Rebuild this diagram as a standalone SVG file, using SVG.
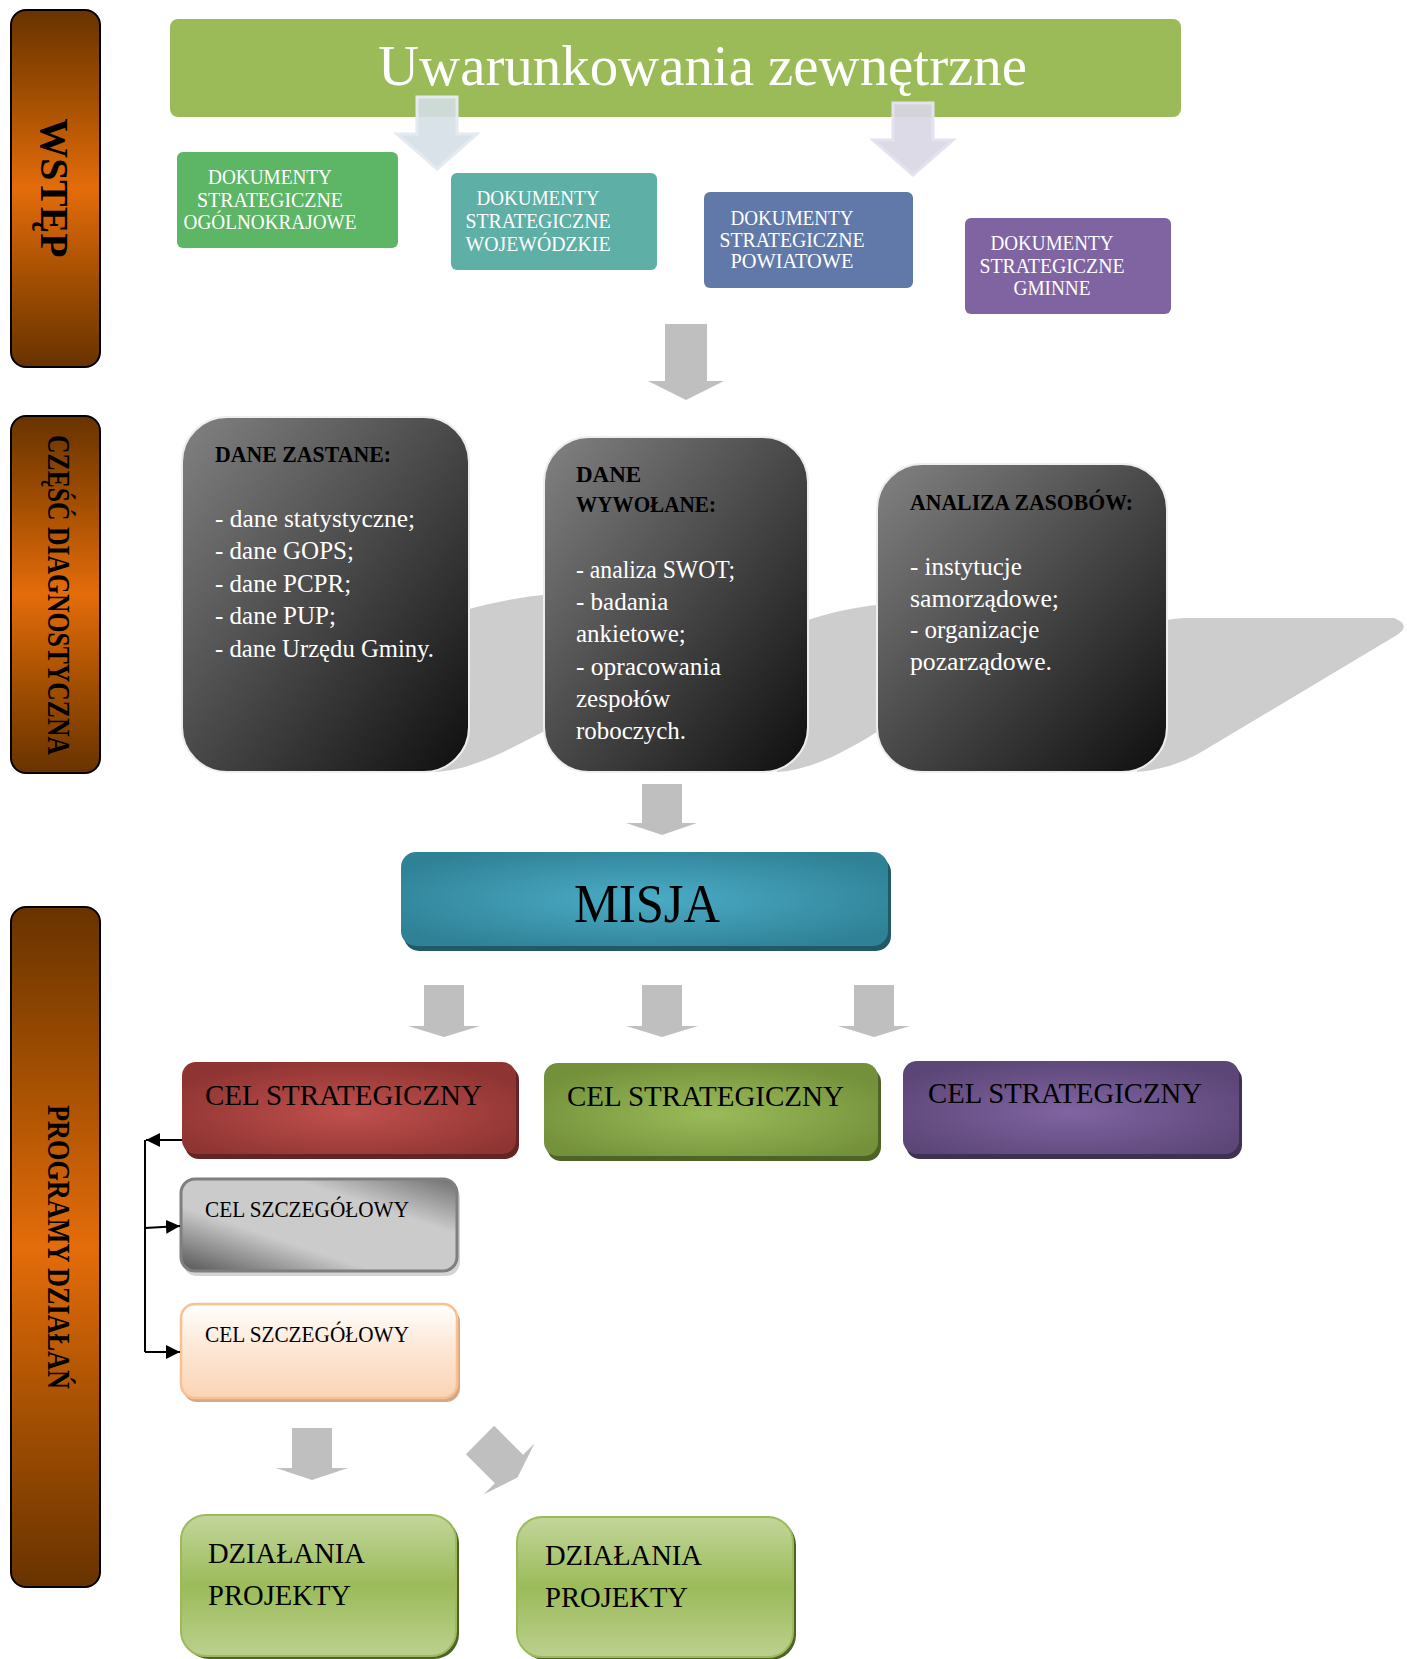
<svg xmlns="http://www.w3.org/2000/svg" width="1407" height="1659" viewBox="0 0 1407 1659">
<defs>
<linearGradient id="gBar" x1="0" y1="0" x2="0" y2="1">
<stop offset="0" stop-color="#683300"/>
<stop offset="0.25" stop-color="#A34F02"/>
<stop offset="0.5" stop-color="#E46C0A"/>
<stop offset="0.75" stop-color="#A34F02"/>
<stop offset="1" stop-color="#683300"/>
</linearGradient>
<linearGradient id="gDark" x1="0" y1="0" x2="1" y2="1">
<stop offset="0" stop-color="#828282"/>
<stop offset="1" stop-color="#0E0E0E"/>
</linearGradient>
<radialGradient id="gRed" cx="0.5" cy="0.55" r="0.6">
<stop offset="0" stop-color="#C0504D"/>
<stop offset="1" stop-color="#8E3432"/>
</radialGradient>
<radialGradient id="gGreen" cx="0.5" cy="0.55" r="0.6">
<stop offset="0" stop-color="#9BBB59"/>
<stop offset="1" stop-color="#73903A"/>
</radialGradient>
<radialGradient id="gPurple" cx="0.5" cy="0.55" r="0.6">
<stop offset="0" stop-color="#8064A2"/>
<stop offset="1" stop-color="#5C4677"/>
</radialGradient>
<radialGradient id="gTeal" cx="0.5" cy="0.5" r="0.6">
<stop offset="0" stop-color="#4BACC6"/>
<stop offset="1" stop-color="#2F8196"/>
</radialGradient>
<linearGradient id="gGray" x1="0" y1="1" x2="1" y2="0">
<stop offset="0" stop-color="#555555"/>
<stop offset="0.35" stop-color="#CBCBCB"/>
<stop offset="0.7" stop-color="#CBCBCB"/>
<stop offset="1" stop-color="#6E6E6E"/>
</linearGradient>
<linearGradient id="gPeach" x1="0" y1="0" x2="0" y2="1">
<stop offset="0" stop-color="#FFFFFF"/>
<stop offset="0.5" stop-color="#FDE6D3"/>
<stop offset="1" stop-color="#FAD4B5"/>
</linearGradient>
<linearGradient id="gLime" x1="0" y1="0" x2="0" y2="1">
<stop offset="0" stop-color="#C3D69B"/>
<stop offset="0.5" stop-color="#9BBB59"/>
<stop offset="1" stop-color="#BCD08F"/>
</linearGradient>
<marker id="ah" viewBox="0 0 10 10" refX="10" refY="5" markerWidth="14" markerHeight="14" markerUnits="userSpaceOnUse" orient="auto">
<path d="M0,0 L10,5 L0,10 Z" fill="#000"/>
</marker>
<style>
.serif{font-family:"Liberation Serif","DejaVu Serif",serif;}
.bar{fill:url(#gBar);stroke:#000;stroke-width:2;}
.barT{font-family:"Liberation Serif","DejaVu Serif",serif;font-weight:bold;fill:#000;}
.doc{font-family:"Liberation Serif","DejaVu Serif",serif;font-size:21px;fill:#fff;text-anchor:middle;}
.dark{fill:url(#gDark);stroke:#EEEEEE;stroke-width:2;}
.dh{font-family:"Liberation Serif","DejaVu Serif",serif;font-weight:bold;font-size:23px;fill:#000;}
.db{font-family:"Liberation Serif","DejaVu Serif",serif;font-size:25px;fill:#fff;}
.blk{fill:#BFBFBF;}
.cel{font-family:"Liberation Serif","DejaVu Serif",serif;font-size:30px;fill:#000;}
.sz{font-family:"Liberation Serif","DejaVu Serif",serif;font-size:23px;fill:#000;}
.sw{fill:#CDCDCD;}
.ln{fill:none;stroke:#000;stroke-width:2;}
</style>
</defs>
<rect width="1407" height="1659" fill="#fff"/>

<!-- left section bars -->
<g id="bar-wstep">
<rect class="bar" x="11" y="10" width="89" height="357" rx="15"/>
<text class="barT" font-size="40" text-anchor="middle" transform="translate(41,188) rotate(90)" textLength="139" lengthAdjust="spacingAndGlyphs">WSTĘP</text>
</g>
<g id="bar-diagnostyczna">
<rect class="bar" x="11" y="416" width="89" height="357" rx="15"/>
<text class="barT" font-size="31" text-anchor="middle" transform="translate(48,595) rotate(90)" textLength="320" lengthAdjust="spacingAndGlyphs">CZĘŚĆ DIAGNOSTYCZNA</text>
</g>
<g id="bar-programy">
<rect class="bar" x="11" y="907" width="89" height="680" rx="15"/>
<text class="barT" font-size="31" text-anchor="middle" transform="translate(48,1247) rotate(90)" textLength="284" lengthAdjust="spacingAndGlyphs">PROGRAMY DZIAŁAŃ</text>
</g>

<!-- header -->
<g id="uwarunkowania">
<rect x="170" y="19" width="1011" height="98" rx="8" fill="#9BBB59"/>
<text class="serif" x="378" y="85" font-size="56" fill="#fff" textLength="649" lengthAdjust="spacingAndGlyphs">Uwarunkowania zewnętrzne</text>
</g>

<!-- document boxes -->
<g id="doc-ogolnokrajowe">
<rect x="177" y="152" width="221" height="96" rx="6" fill="#5DB566"/>
<text class="doc" x="270" y="184" textLength="124" lengthAdjust="spacingAndGlyphs">DOKUMENTY</text>
<text class="doc" x="270" y="207" textLength="146" lengthAdjust="spacingAndGlyphs">STRATEGICZNE</text>
<text class="doc" x="270" y="229" textLength="173" lengthAdjust="spacingAndGlyphs">OGÓLNOKRAJOWE</text>
</g>
<g id="doc-wojewodzkie">
<rect x="451" y="173" width="206" height="97" rx="6" fill="#5EAFA6"/>
<text class="doc" x="538" y="205" textLength="123" lengthAdjust="spacingAndGlyphs">DOKUMENTY</text>
<text class="doc" x="538" y="228" textLength="145" lengthAdjust="spacingAndGlyphs">STRATEGICZNE</text>
<text class="doc" x="538" y="251" textLength="145" lengthAdjust="spacingAndGlyphs">WOJEWÓDZKIE</text>
</g>
<g id="doc-powiatowe">
<rect x="704" y="192" width="209" height="96" rx="6" fill="#6179A9"/>
<text class="doc" x="792" y="225" textLength="123" lengthAdjust="spacingAndGlyphs">DOKUMENTY</text>
<text class="doc" x="792" y="247" textLength="145" lengthAdjust="spacingAndGlyphs">STRATEGICZNE</text>
<text class="doc" x="792" y="268" textLength="123" lengthAdjust="spacingAndGlyphs">POWIATOWE</text>
</g>
<g id="doc-gminne">
<rect x="965" y="218" width="206" height="96" rx="6" fill="#8064A2"/>
<text class="doc" x="1052" y="250" textLength="123" lengthAdjust="spacingAndGlyphs">DOKUMENTY</text>
<text class="doc" x="1052" y="273" textLength="145" lengthAdjust="spacingAndGlyphs">STRATEGICZNE</text>
<text class="doc" x="1052" y="295" textLength="77" lengthAdjust="spacingAndGlyphs">GMINNE</text>
</g>

<!-- background swooshes -->
<g id="swooshes">
<path class="sw" d="M433,772 C470,771 505,752 552,727 L552,594 C520,597 495,602 465,610 L442,700 Z"/>
<path class="sw" d="M777,772 C812,770 845,752 885,727 L885,604 C855,607 830,612 802,622 L786,700 Z"/>
<path class="sw" d="M1137,772 C1165,770 1190,760 1213,745 L1397,635 Q1412,625 1394,618 L1187,618 C1180,618 1172,619 1160,621 L1150,700 Z"/>
</g>

<!-- diagnostic boxes -->
<g id="dane-zastane">
<rect class="dark" x="182" y="417" width="287" height="355" rx="45"/>
<text class="dh" x="215" y="462" textLength="176" lengthAdjust="spacingAndGlyphs">DANE ZASTANE:</text>
<text class="db" x="215" y="527" textLength="200" lengthAdjust="spacingAndGlyphs">- dane statystyczne;</text>
<text class="db" x="215" y="559">- dane GOPS;</text>
<text class="db" x="215" y="592">- dane PCPR;</text>
<text class="db" x="215" y="624">- dane PUP;</text>
<text class="db" x="215" y="657" textLength="219" lengthAdjust="spacingAndGlyphs">- dane Urzędu Gminy.</text>
</g>
<g id="dane-wywolane">
<rect class="dark" x="544" y="437" width="264" height="335" rx="45"/>
<text class="dh" x="576" y="482">DANE</text>
<text class="dh" x="576" y="512" textLength="140" lengthAdjust="spacingAndGlyphs">WYWOŁANE:</text>
<text class="db" x="576" y="578" textLength="159" lengthAdjust="spacingAndGlyphs">- analiza SWOT;</text>
<text class="db" x="576" y="610">- badania</text>
<text class="db" x="576" y="642">ankietowe;</text>
<text class="db" x="576" y="675" textLength="145" lengthAdjust="spacingAndGlyphs">- opracowania</text>
<text class="db" x="576" y="707">zespołów</text>
<text class="db" x="576" y="739" textLength="110" lengthAdjust="spacingAndGlyphs">roboczych.</text>
</g>
<g id="analiza-zasobow">
<rect class="dark" x="877" y="464" width="290" height="308" rx="45"/>
<text class="dh" x="910" y="510" textLength="223" lengthAdjust="spacingAndGlyphs">ANALIZA ZASOBÓW:</text>
<text class="db" x="910" y="575">- instytucje</text>
<text class="db" x="910" y="607" textLength="149" lengthAdjust="spacingAndGlyphs">samorządowe;</text>
<text class="db" x="910" y="638">- organizacje</text>
<text class="db" x="910" y="670" textLength="142" lengthAdjust="spacingAndGlyphs">pozarządowe.</text>
</g>

<!-- mission -->
<g id="misja">
<rect x="404" y="857" width="487" height="94" rx="15" fill="#215967"/>
<rect x="401" y="852" width="487" height="94" rx="15" fill="url(#gTeal)"/>
<text class="serif" x="647" y="922" font-size="54" fill="#000" text-anchor="middle" textLength="146" lengthAdjust="spacingAndGlyphs">MISJA</text>
</g>

<!-- strategic goals -->
<g id="cel-strategiczny-1">
<rect x="185" y="1066" width="334" height="93" rx="14" fill="#632523"/>
<rect x="182" y="1062" width="334" height="92" rx="14" fill="url(#gRed)"/>
<text class="cel" x="205" y="1105" textLength="277" lengthAdjust="spacingAndGlyphs">CEL STRATEGICZNY</text>
</g>
<g id="cel-strategiczny-2">
<rect x="547" y="1068" width="334" height="93" rx="14" fill="#4F6228"/>
<rect x="544" y="1063" width="334" height="93" rx="14" fill="url(#gGreen)"/>
<text class="cel" x="567" y="1106" textLength="277" lengthAdjust="spacingAndGlyphs">CEL STRATEGICZNY</text>
</g>
<g id="cel-strategiczny-3">
<rect x="906" y="1066" width="336" height="93" rx="14" fill="#3F3151"/>
<rect x="903" y="1061" width="336" height="93" rx="14" fill="url(#gPurple)"/>
<text class="cel" x="928" y="1103" textLength="274" lengthAdjust="spacingAndGlyphs">CEL STRATEGICZNY</text>
</g>

<!-- detailed goals -->
<g id="cel-szczegolowy-1">
<rect x="183" y="1184" width="277" height="92" rx="14" fill="#D4D4D4"/>
<rect x="181" y="1179" width="276" height="92" rx="14" fill="url(#gGray)" stroke="#7F7F7F" stroke-width="3"/>
<text class="sz" x="205" y="1217" textLength="204" lengthAdjust="spacingAndGlyphs">CEL SZCZEGÓŁOWY</text>
</g>
<g id="cel-szczegolowy-2">
<rect x="183" y="1308" width="277" height="94" rx="14" fill="#D3A985"/>
<rect x="181" y="1304" width="276" height="94" rx="14" fill="url(#gPeach)" stroke="#FAC090" stroke-width="2.5"/>
<text class="sz" x="205" y="1342" textLength="204" lengthAdjust="spacingAndGlyphs">CEL SZCZEGÓŁOWY</text>
</g>

<!-- actions -->
<g id="dzialania-1">
<rect x="184" y="1518" width="275" height="141" rx="25" fill="#4F6228"/>
<rect x="181" y="1515" width="275" height="141" rx="25" fill="url(#gLime)" stroke="#9BBB59" stroke-width="2"/>
<text class="cel" x="208" y="1563" textLength="157" lengthAdjust="spacingAndGlyphs">DZIAŁANIA</text>
<text class="cel" x="208" y="1605" textLength="143" lengthAdjust="spacingAndGlyphs">PROJEKTY</text>
</g>
<g id="dzialania-2">
<rect x="520" y="1520" width="276" height="140" rx="25" fill="#4F6228"/>
<rect x="517" y="1517" width="276" height="140" rx="25" fill="url(#gLime)" stroke="#9BBB59" stroke-width="2"/>
<text class="cel" x="545" y="1565" textLength="157" lengthAdjust="spacingAndGlyphs">DZIAŁANIA</text>
<text class="cel" x="545" y="1607" textLength="143" lengthAdjust="spacingAndGlyphs">PROJEKTY</text>
</g>

<!-- connectors -->
<g id="connectors">
<path d="M417,97 H457 V134 H477 L437,169 L397,134 H417 Z" fill="#D5DEE6" fill-opacity="0.88" stroke="#E4EAF0" stroke-width="3"/>
<path d="M893,103 H933 V140 H953 L913,175 L873,140 H893 Z" fill="#D9D6E6" fill-opacity="0.9" stroke="#E4E2EE" stroke-width="3"/>
<path class="blk" d="M665,324 H707 V381 H724 L686,400 L648,381 H665 Z"/>
<path class="blk" d="M642,784 H682 V823 H697 L662,835 L626,823 H642 Z"/>
<path class="blk" d="M424,985 H464 V1026 H480 L444,1037 L408,1026 H424 Z"/>
<path class="blk" d="M642,985 H682 V1026 H698 L662,1037 L626,1026 H642 Z"/>
<path class="blk" d="M854,985 H894 V1026 H910 L874,1037 L838,1026 H854 Z"/>
<path class="blk" d="M292,1428 H332 V1468 H348 L312,1480 L276,1468 H292 Z"/>
<path class="blk" transform="translate(480,1440) rotate(-45)" d="M-20,0 H20 V41 H36 L0,53 L-36,41 H-20 Z"/>
<path class="ln" d="M145,1140 V1352"/>
<path class="ln" d="M182,1140 H146" marker-end="url(#ah)"/>
<path class="ln" d="M145,1228 L180,1226" marker-end="url(#ah)"/>
<path class="ln" d="M145,1352 H180" marker-end="url(#ah)"/>
</g>
</svg>
